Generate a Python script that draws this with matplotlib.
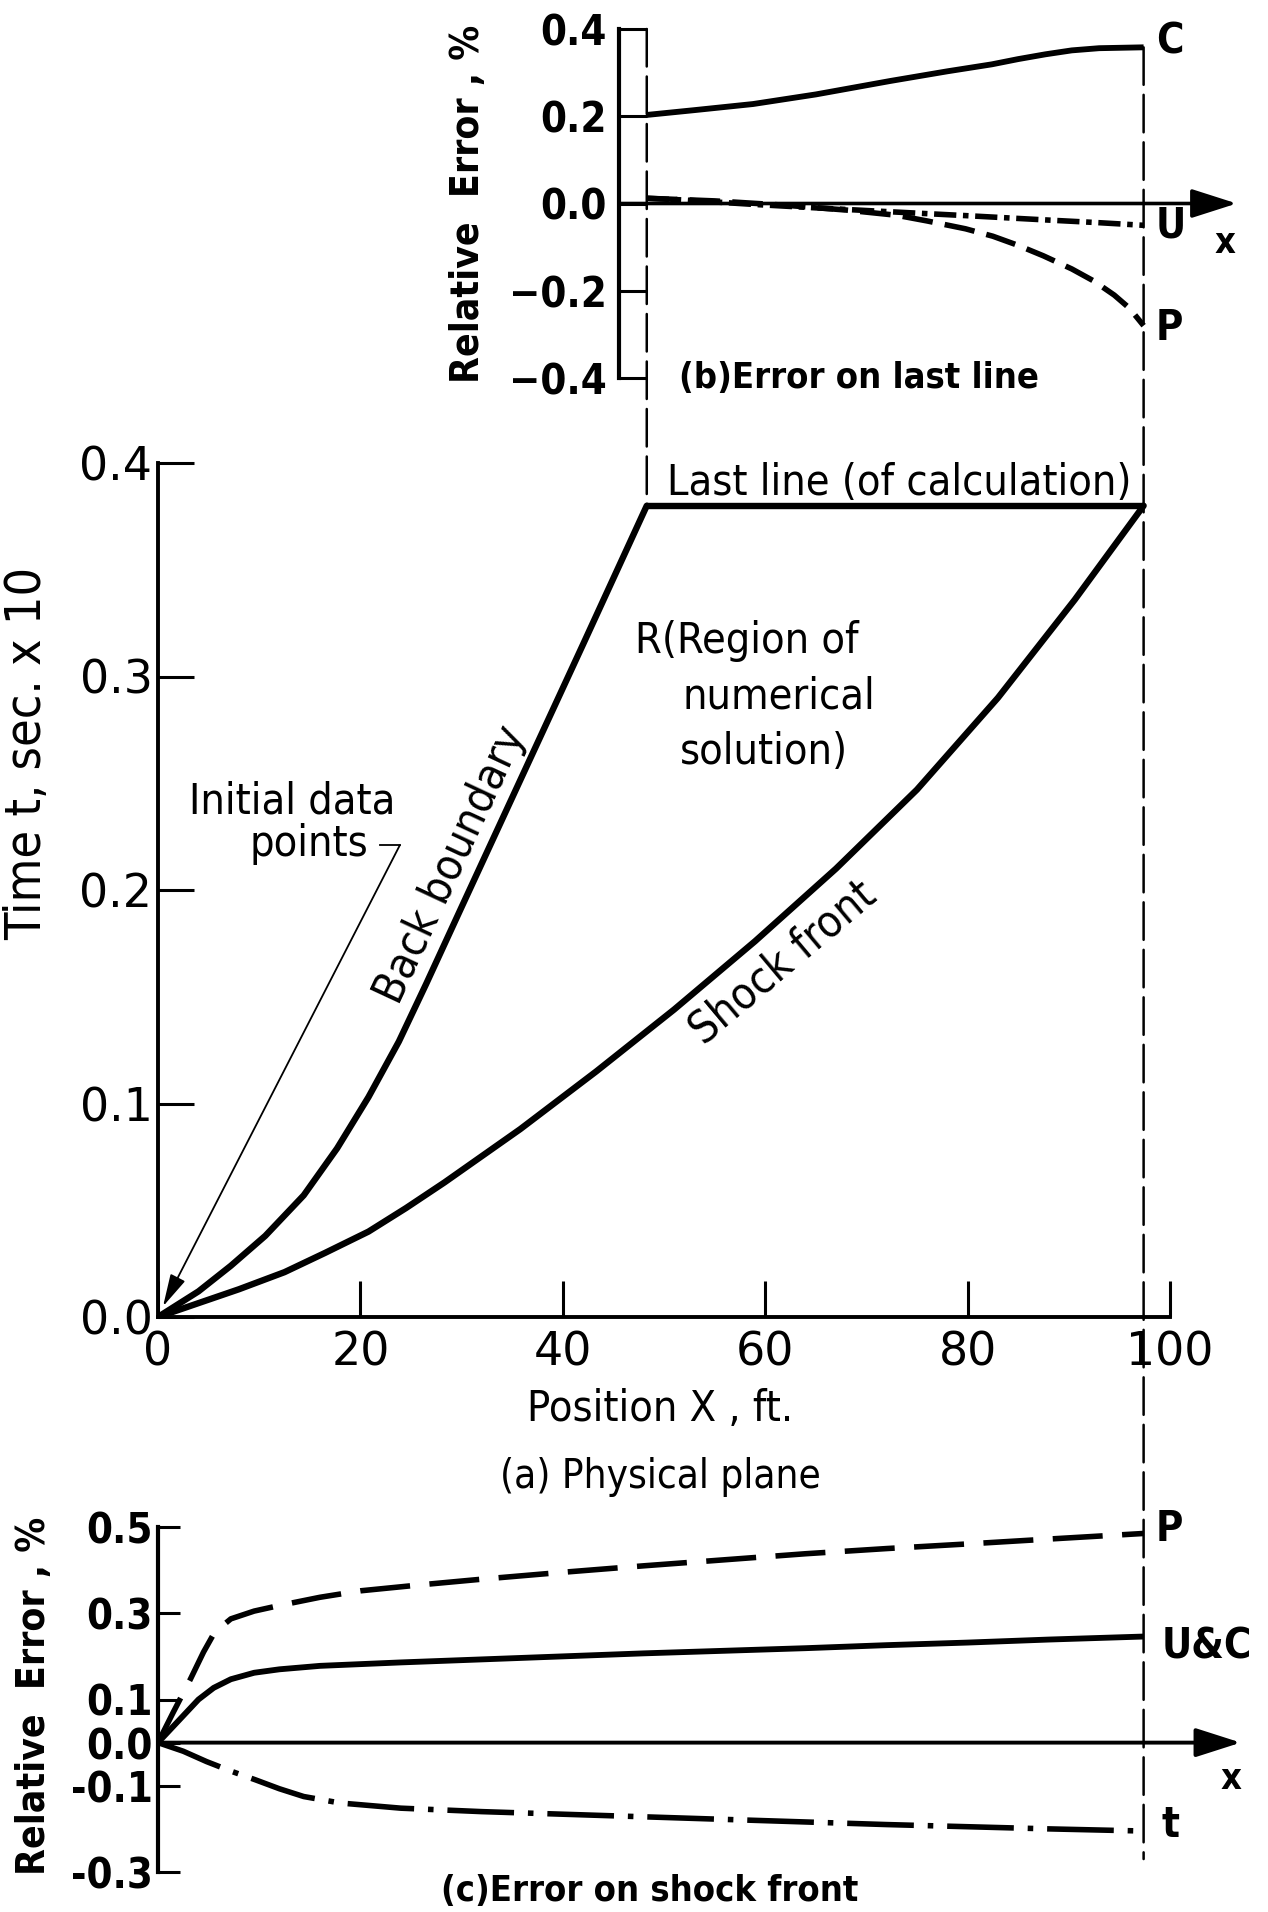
import matplotlib
matplotlib.use("Agg")
import matplotlib.pyplot as plt
from matplotlib.patches import ConnectionPatch

plt.rcParams['font.family'] = ['DejaVu Sans']

# (a) physical plane: boundaries of the region of solution
back_x = [0, 4, 7.2, 10.6, 14.4, 17.7, 20.8, 23.8, 26.5, 30, 34, 38, 42, 48.3]
back_y = [0, 0.012, 0.024, 0.038, 0.057, 0.079, 0.103, 0.129, 0.156, 0.192, 0.233, 0.274, 0.315, 0.380]
shock_x = [0, 4, 8, 12.5, 16.5, 20.8, 24.5, 28.3, 35.8, 43.3, 51, 59, 67, 75, 83, 90.6, 97.4]
shock_y = [0, 0.0065, 0.013, 0.021, 0.030, 0.040, 0.051, 0.063, 0.088, 0.115, 0.144, 0.176, 0.210, 0.247, 0.290, 0.336, 0.380]
last_x = [48.3, 97.4]
last_y = [0.38, 0.38]

# (b) error on last line
b_c_x = [48.3, 53, 58.8, 65, 72.4, 78, 82.4, 85, 87.7, 90.3, 93, 97.4]
b_c_y = [0.203, 0.214, 0.228, 0.250, 0.281, 0.303, 0.319, 0.331, 0.342, 0.351, 0.356, 0.358]
b_u_x = [48.3, 52, 58.8, 65, 72.4, 80, 88, 93, 97.4]
b_u_y = [0.012, 0.008, -0.002, -0.010, -0.019, -0.028, -0.038, -0.044, -0.050]
b_p_x = [48.3, 55, 62, 68, 73, 76, 79.8, 82.5, 85, 87.5, 90.3, 92.5, 94.5, 96, 97.4]
b_p_y = [0.012, 0.006, -0.004, -0.015, -0.027, -0.040, -0.058, -0.075, -0.096, -0.120, -0.150, -0.178, -0.210, -0.240, -0.280]

# (c) error on shock front
c_p_x = [0, 1.5, 3.2, 4.5, 5.6, 7.2, 9.5, 12, 16, 20, 26, 32, 40, 48, 56, 64, 72, 80.2, 88, 97.4]
c_p_y = [0, 0.07, 0.147, 0.21, 0.256, 0.287, 0.305, 0.318, 0.337, 0.352, 0.366, 0.379, 0.395, 0.41, 0.424, 0.438, 0.45, 0.461, 0.472, 0.485]
c_uc_x = [0, 2, 4, 5.5, 7.2, 9.5, 12, 16, 24, 32, 40, 48, 56, 64, 72, 80, 88, 97.4]
c_uc_y = [0, 0.05, 0.1, 0.127, 0.147, 0.162, 0.17, 0.178, 0.186, 0.193, 0.2, 0.207, 0.213, 0.219, 0.226, 0.232, 0.239, 0.246]
c_t_x = [0, 2.5, 4.8, 7.2, 9.6, 12, 14.4, 18, 24, 32, 40, 48, 56, 64, 72, 80, 88, 97.4]
c_t_y = [0, -0.02, -0.044, -0.066, -0.086, -0.107, -0.125, -0.140, -0.152, -0.160, -0.166, -0.172, -0.178, -0.184, -0.190, -0.195, -0.200, -0.205]

a_xticks = [0, 20, 40, 60, 80, 100]
a_yticks = [0.0, 0.1, 0.2, 0.3, 0.4]
b_yticks = [-0.4, -0.2, 0.0, 0.2, 0.4]
b_ylabels = ['\u22120.4', '\u22120.2', '0.0', '0.2', '0.4']
c_yticks = [-0.3, -0.1, 0.0, 0.1, 0.3, 0.5]
c_ylabels = ['-0.3', '-0.1', '0.0', '0.1', '0.3', '0.5']

W, H = 1268, 1912
fig = plt.figure(figsize=(W / 100, H / 100), dpi=100)


def rect(left, right, top, bottom):
    return [left / W, (H - bottom) / H, (right - left) / W, (bottom - top) / H]


ax_a = fig.add_axes(rect(158, 1261, 463, 1317))
ax_b = fig.add_axes(rect(158, 1261, 29, 378))
ax_c = fig.add_axes(rect(158, 1261, 1527, 1872))
for ax in (ax_a, ax_b, ax_c):
    ax.set_xlim(0, 109)
    ax.patch.set_visible(False)
    for s in ('top', 'right'):
        ax.spines[s].set_visible(False)
ax_a.set_ylim(0, 0.4)
ax_b.set_ylim(-0.4, 0.4)
ax_c.set_ylim(-0.3, 0.5)

cond = dict(fontstretch='condensed')
bold = dict(fontstretch='condensed', fontweight='bold')

# ---- (a) physical plane
ax_a.spines['left'].set_linewidth(2.8)
ax_a.spines['bottom'].set_linewidth(2.8)
ax_a.spines['bottom'].set_bounds(0, 100)
ax_a.spines['left'].set_bounds(0, 0.4)
ax_a.set_xticks(a_xticks)
ax_a.set_xticklabels([str(v) for v in a_xticks])
ax_a.set_yticks(a_yticks)
ax_a.set_yticklabels(['%.1f' % v for v in a_yticks])
ax_a.tick_params(direction='in', length=26, width=2.2, labelsize=33)
ax_a.tick_params(axis='x', pad=10)
ax_a.tick_params(axis='y', pad=4)

lw_main = 4.6
ax_a.plot(back_x, back_y, color='k', lw=lw_main, solid_capstyle='round')
ax_a.plot(shock_x, shock_y, color='k', lw=lw_main, solid_capstyle='round')
ax_a.plot(last_x, last_y, color='k', lw=lw_main, solid_capstyle='butt')

fs = 31
ax_a.text(50.3, 0.385, 'Last line (of calculation)', fontsize=fs, ha='left', va='baseline', **cond)
ax_a.text(47.1, 0.311, 'R(Region of', fontsize=fs, ha='left', va='baseline', **cond)
ax_a.text(51.8, 0.285, 'numerical', fontsize=fs, ha='left', va='baseline', **cond)
ax_a.text(51.6, 0.259, 'solution)', fontsize=fs, ha='left', va='baseline', **cond)
ax_a.text(13.3, 0.236, 'Initial data', fontsize=fs, ha='center', va='baseline', **cond)
ax_a.text(14.9, 0.216, 'points', fontsize=fs, ha='center', va='baseline', **cond)
ax_a.text(29.0, 0.212, 'Back boundary', fontsize=32, ha='center', va='center',
          rotation=65, rotation_mode='anchor', **cond)
ax_a.text(61.8, 0.166, 'Shock front', fontsize=32, ha='center', va='center',
          rotation=40, rotation_mode='anchor', **cond)
ax_a.plot([21.9, 23.9], [0.221, 0.221], color='k', lw=1.3)
ax_a.annotate('', xy=(0.5, 0.005), xytext=(23.9, 0.221),
              arrowprops=dict(arrowstyle='-|>,head_length=0.8,head_width=0.2',
                              mutation_scale=25, lw=1.3, color='k',
                              shrinkA=0, shrinkB=0))
ax_a.text(49.6, -0.043, 'Position X , ft.', fontsize=31, ha='center', va='center', **cond)
ax_a.text(49.6, -0.075, '(a) Physical plane', fontsize=29, ha='center', va='center', **cond)
ax_a.text(-12.9, 0.264, 'Time t, sec. x 10', fontsize=36, ha='center', va='center',
          rotation=90, **cond)

# ---- (b) error on last line
ax_b.spines['bottom'].set_visible(False)
ax_b.spines['left'].set_position(('data', 45.6))
ax_b.spines['left'].set_bounds(-0.4, 0.4)
ax_b.spines['left'].set_linewidth(3)
ax_b.set_xticks([])
ax_b.set_yticks(b_yticks)
ax_b.set_yticklabels(b_ylabels, **bold)
ax_b.tick_params(axis='y', direction='in', length=20, width=2.2, labelsize=30, pad=9)
ax_b.annotate('', xy=(106.6, 0), xytext=(45.6, 0),
              arrowprops=dict(arrowstyle='-|>,head_length=1.0,head_width=0.32',
                              mutation_scale=28, lw=2.6, color='k',
                              shrinkA=0, shrinkB=0))
ax_b.plot(b_c_x, b_c_y, color='k', lw=4.2, solid_capstyle='butt')
ax_b.plot(b_u_x, b_u_y, color='k', lw=4.0, dashes=(4, 1.2, 1, 1.2))
ax_b.plot(b_p_x, b_p_y, color='k', lw=4.0, dashes=(5.5, 2.2))
bfs = 30
ax_b.text(98.6, 0.372, 'C', fontsize=bfs, ha='left', va='center', **bold)
ax_b.text(98.6, -0.05, 'U', fontsize=bfs, ha='left', va='center', **bold)
ax_b.text(98.6, -0.285, 'P', fontsize=bfs, ha='left', va='center', **bold)
ax_b.text(105.4, -0.09, 'x', fontsize=26, ha='center', va='center', **bold)
ax_b.text(69.3, -0.4, '(b)Error on last line', fontsize=26, ha='center', va='center', **bold)
ax_b.text(30.6, 0.0, 'Relative  Error , %', fontsize=28, ha='center', va='center',
          rotation=90, **bold)

# ---- (c) error on shock front
ax_c.spines['bottom'].set_visible(False)
ax_c.spines['left'].set_bounds(-0.3, 0.5)
ax_c.spines['left'].set_linewidth(3)
ax_c.set_xticks([])
ax_c.set_yticks(c_yticks)
ax_c.set_yticklabels(c_ylabels, **bold)
ax_c.tick_params(axis='y', direction='in', length=16, width=2.2, labelsize=30, pad=4)
ax_c.annotate('', xy=(107.0, 0), xytext=(0, 0),
              arrowprops=dict(arrowstyle='-|>,head_length=1.0,head_width=0.32',
                              mutation_scale=28, lw=2.8, color='k',
                              shrinkA=0, shrinkB=0))
ax_c.plot(c_uc_x, c_uc_y, color='k', lw=4.2, solid_capstyle='butt')
ax_c.plot(c_p_x, c_p_y, color='k', lw=4.0, dashes=(9, 3.5))
ax_c.plot(c_t_x, c_t_y, color='k', lw=4.0, dashes=(12, 2.5, 1, 2.5))
ax_c.text(98.6, 0.495, 'P', fontsize=bfs, ha='left', va='center', **bold)
ax_c.text(99.2, 0.223, 'U&C', fontsize=bfs, ha='left', va='center', **bold)
ax_c.text(99.2, -0.19, 't', fontsize=bfs, ha='left', va='center', **bold)
ax_c.text(106.0, -0.085, 'x', fontsize=26, ha='center', va='center', **bold)
ax_c.text(48.6, -0.343, '(c)Error on shock front', fontsize=26, ha='center', va='center', **bold)
ax_c.text(-12.3, 0.108, 'Relative  Error , %', fontsize=28, ha='center', va='center',
          rotation=90, **bold)

# ---- dashed guide lines through the panels
left_guide = ConnectionPatch(xyA=(48.3, 0.4), coordsA=ax_b.transData,
                             xyB=(48.3, 0.38), coordsB=ax_a.transData,
                             color='k', lw=1.8, linestyle=(0, (15, 4)))
right_guide = ConnectionPatch(xyA=(97.4, 0.358), coordsA=ax_b.transData,
                              xyB=(97.4, -0.27), coordsB=ax_c.transData,
                              color='k', lw=1.8, linestyle=(0, (15, 4)))
fig.add_artist(left_guide)
fig.add_artist(right_guide)

fig.savefig('out.png', dpi=100, facecolor='white')
